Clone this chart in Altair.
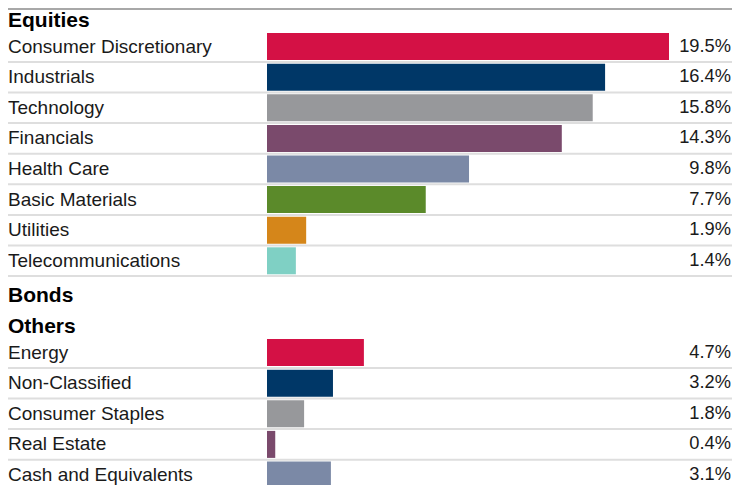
import altair as alt
import pandas as pd

# ---- data ----
group_names = ["Equities", "Bonds", "Others"]

equities_labels = ["Consumer Discretionary", "Industrials", "Technology", "Financials",
                   "Health Care", "Basic Materials", "Utilities", "Telecommunications"]
equities_values = [19.5, 16.4, 15.8, 14.3, 9.8, 7.7, 1.9, 1.4]

bonds_labels = []
bonds_values = []

others_labels = ["Energy", "Non-Classified", "Consumer Staples", "Real Estate", "Cash and Equivalents"]
others_values = [4.7, 3.2, 1.8, 0.4, 3.1]

palette = ["#D41145", "#003767", "#97989B", "#7A4A6C", "#7B89A6", "#5B8A2A", "#D5861A", "#7FD0C4"]

# ---- build row table ----
headers = []
items = []
r = 0
for g, labs, vals in zip(group_names,
                         [equities_labels, bonds_labels, others_labels],
                         [equities_values, bonds_values, others_values]):
    headers.append({"row": r, "label": g})
    r += 1
    for i, (l, v) in enumerate(zip(labs, vals)):
        items.append({"row": r, "label": l, "value": v, "color": palette[i % len(palette)]})
        r += 1

hdf = pd.DataFrame(headers)
idf = pd.DataFrame(items)

W, H = 724, 477
yscale = alt.Scale(domain=[0, 15], range=[8, 467], padding=0, zero=False, nice=False)
xscale = alt.Scale(domain=[0, 19.5], range=[259, 661], padding=0)
FONT = "Liberation Sans"

base_items = alt.Chart(idf)

seps = base_items.transform_calculate(sep="datum.row + 0.5").mark_rule(
    color="#dedede", strokeWidth=2
).encode(
    y=alt.Y("sep:Q", scale=yscale, axis=None),
    x=alt.value(0),
    x2=alt.value(W),
)

top = alt.Chart(hdf.head(1)).mark_rule(color="#a8a8a8", strokeWidth=2).encode(
    y=alt.value(1), x=alt.value(0), x2=alt.value(W)
)

bars = base_items.mark_bar(orient="horizontal", size=27).encode(
    y=alt.Y("row:Q", scale=yscale, axis=None),
    x=alt.X("value:Q", scale=xscale, axis=None),
    x2=alt.datum(0),
    color=alt.Color("color:N", scale=None),
)

labels = base_items.mark_text(align="left", baseline="middle", font=FONT, fontSize=19,
                              color="#1a1a1a").encode(
    y=alt.Y("row:Q", scale=yscale, axis=None),
    x=alt.value(0),
    text="label:N",
)

values = base_items.transform_calculate(
    txt="format(datum.value, '.1f') + '%'"
).mark_text(align="right", baseline="middle", font=FONT, fontSize=18.3, color="#1a1a1a").encode(
    y=alt.Y("row:Q", scale=yscale, axis=None),
    x=alt.value(W - 1),
    text="txt:N",
)

head = alt.Chart(hdf).mark_text(align="left", baseline="middle", font=FONT, fontSize=21,
                                fontWeight="bold", color="#000000", dy=5).encode(
    y=alt.Y("row:Q", scale=yscale, axis=None),
    x=alt.value(0),
    text="label:N",
)

chart = alt.layer(seps, top, bars, labels, values, head).properties(
    width=W, height=H, padding=0,
    autosize=alt.AutoSizeParams(type="none"),
).configure_view(stroke=None)

chart.save("out.html", embed_options={"renderer": "svg", "actions": False})
